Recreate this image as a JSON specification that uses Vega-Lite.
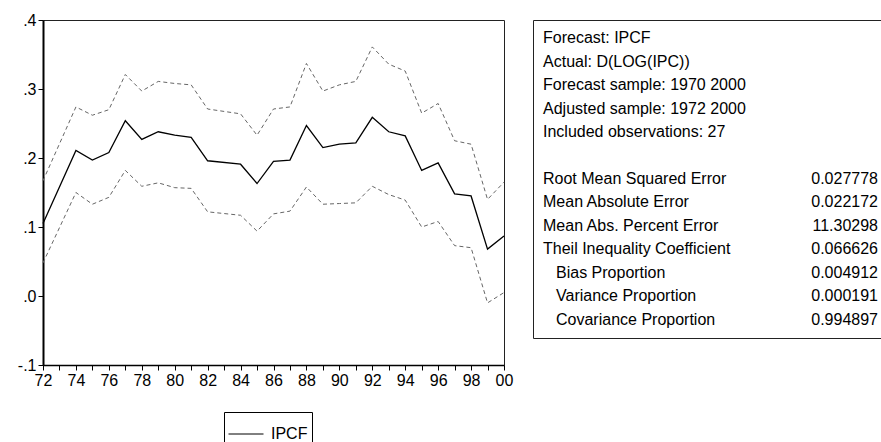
{
  "$schema": "https://vega.github.io/schema/vega-lite/v6.json",
  "padding": {"left": 16, "top": 11, "right": 0, "bottom": 0},
  "background": "white",
  "spacing": 29,
  "bounds": "flush",
  "config": {
    "font": "Liberation Sans",
    "view": {"stroke": "#222", "strokeWidth": 1},
    "axis": {"labelFont": "Liberation Sans", "labelColor": "black", "domainColor": "black", "tickColor": "black", "grid": false, "title": null}
  },
  "datasets": {
    "series": [
      {"year": 1972, "f": 0.105, "u": 0.167, "l": 0.048},
      {"year": 1974, "f": 0.211, "u": 0.274, "l": 0.150},
      {"year": 1975, "f": 0.197, "u": 0.262, "l": 0.133},
      {"year": 1976, "f": 0.208, "u": 0.270, "l": 0.143},
      {"year": 1977, "f": 0.254, "u": 0.321, "l": 0.182},
      {"year": 1978, "f": 0.227, "u": 0.297, "l": 0.159},
      {"year": 1979, "f": 0.238, "u": 0.311, "l": 0.164},
      {"year": 1980, "f": 0.233, "u": 0.308, "l": 0.157},
      {"year": 1981, "f": 0.230, "u": 0.306, "l": 0.156},
      {"year": 1982, "f": 0.196, "u": 0.271, "l": 0.122},
      {"year": 1984, "f": 0.191, "u": 0.264, "l": 0.117},
      {"year": 1985, "f": 0.163, "u": 0.233, "l": 0.094},
      {"year": 1986, "f": 0.195, "u": 0.271, "l": 0.119},
      {"year": 1987, "f": 0.197, "u": 0.274, "l": 0.123},
      {"year": 1988, "f": 0.247, "u": 0.337, "l": 0.158},
      {"year": 1989, "f": 0.215, "u": 0.297, "l": 0.133},
      {"year": 1990, "f": 0.220, "u": 0.306, "l": 0.134},
      {"year": 1991, "f": 0.222, "u": 0.311, "l": 0.135},
      {"year": 1992, "f": 0.259, "u": 0.361, "l": 0.159},
      {"year": 1993, "f": 0.238, "u": 0.336, "l": 0.147},
      {"year": 1994, "f": 0.232, "u": 0.326, "l": 0.139},
      {"year": 1995, "f": 0.182, "u": 0.265, "l": 0.100},
      {"year": 1996, "f": 0.193, "u": 0.279, "l": 0.108},
      {"year": 1997, "f": 0.148, "u": 0.225, "l": 0.073},
      {"year": 1998, "f": 0.145, "u": 0.220, "l": 0.070},
      {"year": 1999, "f": 0.068, "u": 0.140, "l": -0.010},
      {"year": 2000, "f": 0.087, "u": 0.165, "l": 0.005}
    ],
    "stats": [
      {"line": 0, "label": "Forecast: IPCF", "value": null, "indent": false},
      {"line": 1, "label": "Actual: D(LOG(IPC))", "value": null, "indent": false},
      {"line": 2, "label": "Forecast sample: 1970 2000", "value": null, "indent": false},
      {"line": 3, "label": "Adjusted sample: 1972 2000", "value": null, "indent": false},
      {"line": 4, "label": "Included observations: 27", "value": null, "indent": false},
      {"line": 6, "label": "Root Mean Squared Error", "value": "0.027778", "indent": false},
      {"line": 7, "label": "Mean Absolute Error", "value": "0.022172", "indent": false},
      {"line": 8, "label": "Mean Abs. Percent Error", "value": "11.30298", "indent": false},
      {"line": 9, "label": "Theil Inequality Coefficient", "value": "0.066626", "indent": false},
      {"line": 10, "label": "Bias Proportion", "value": "0.004912", "indent": true},
      {"line": 11, "label": "Variance Proportion", "value": "0.000191", "indent": true},
      {"line": 12, "label": "Covariance Proportion", "value": "0.994897", "indent": true}
    ]
  },
  "hconcat": [
    {
      "width": 461,
      "height": 345,
      "data": {"name": "series"},
      "encoding": {
        "x": {
          "field": "year", "type": "quantitative",
          "scale": {"domain": [1972, 2000], "nice": false, "zero": false},
          "axis": {
            "values": [1972,1973,1974,1975,1976,1977,1978,1979,1980,1981,1982,1983,1984,1985,1986,1987,1988,1989,1990,1991,1992,1993,1994,1995,1996,1997,1998,1999,2000],
            "labelExpr": "datum.value % 2 == 0 ? substring(toString(datum.value), 2, 4) : ''",
            "labelOverlap": false, "labelFlush": false, "labelFontSize": 16,
            "tickSize": 5, "labelPadding": 2, "domainWidth": 1.5
          }
        }
      },
      "layer": [
        {
          "mark": {"type": "line", "color": "#666", "strokeWidth": 1, "strokeDash": [4, 3]},
          "encoding": {
            "y": {
              "field": "u", "type": "quantitative",
              "scale": {"domain": [-0.1, 0.4], "nice": false, "zero": false},
              "axis": {
                "values": [-0.1, 0, 0.1, 0.2, 0.3, 0.4],
                "labelExpr": "replace(replace(format(datum.value, '.1f'), '0.', '.'), '\u2212', '-')",
                "labelFlush": false, "labelFontSize": 16, "tickSize": 5, "labelPadding": 2, "domainWidth": 2
              }
            }
          }
        },
        {
          "mark": {"type": "line", "color": "#666", "strokeWidth": 1, "strokeDash": [4, 3]},
          "encoding": {"y": {"field": "l", "type": "quantitative"}}
        },
        {
          "mark": {"type": "line", "strokeWidth": 1.3},
          "encoding": {
            "y": {"field": "f", "type": "quantitative"},
            "color": {
              "datum": "IPCF", "type": "nominal",
              "scale": {"range": ["black"]},
              "legend": {
                "title": null, "orient": "none", "legendX": 181, "legendY": 392,
                "symbolType": "stroke", "symbolSize": 1225, "symbolStrokeWidth": 1,
                "symbolStrokeColor": "#777",
                "strokeColor": "black", "fillColor": "white", "padding": 4,
                "labelFontSize": 16, "labelOffset": 7, "labelColor": "black"
              }
            }
          }
        }
      ]
    },
    {
      "width": 349,
      "height": 318,
      "data": {"name": "stats"},
      "encoding": {
        "y": {
          "field": "line", "type": "quantitative",
          "scale": {"domain": [-0.77, 12.77], "reverse": true, "nice": false, "zero": false},
          "axis": null
        }
      },
      "layer": [
        {
          "transform": [{"filter": "!datum.indent"}],
          "mark": {"type": "text", "align": "left", "baseline": "middle", "fontSize": 16, "color": "black"},
          "encoding": {
            "x": {"datum": 0, "type": "quantitative", "scale": {"domain": [-0.0299, 1.0119], "nice": false, "zero": false}, "axis": null},
            "text": {"field": "label"}
          }
        },
        {
          "transform": [{"filter": "datum.indent"}],
          "mark": {"type": "text", "align": "left", "baseline": "middle", "fontSize": 16, "color": "black", "dx": 13},
          "encoding": {
            "x": {"datum": 0, "type": "quantitative"},
            "text": {"field": "label"}
          }
        },
        {
          "transform": [{"filter": "datum.value != null"}],
          "mark": {"type": "text", "align": "right", "baseline": "middle", "fontSize": 16, "color": "black"},
          "encoding": {
            "x": {"datum": 1, "type": "quantitative"},
            "text": {"field": "value"}
          }
        }
      ]
    }
  ]
}
